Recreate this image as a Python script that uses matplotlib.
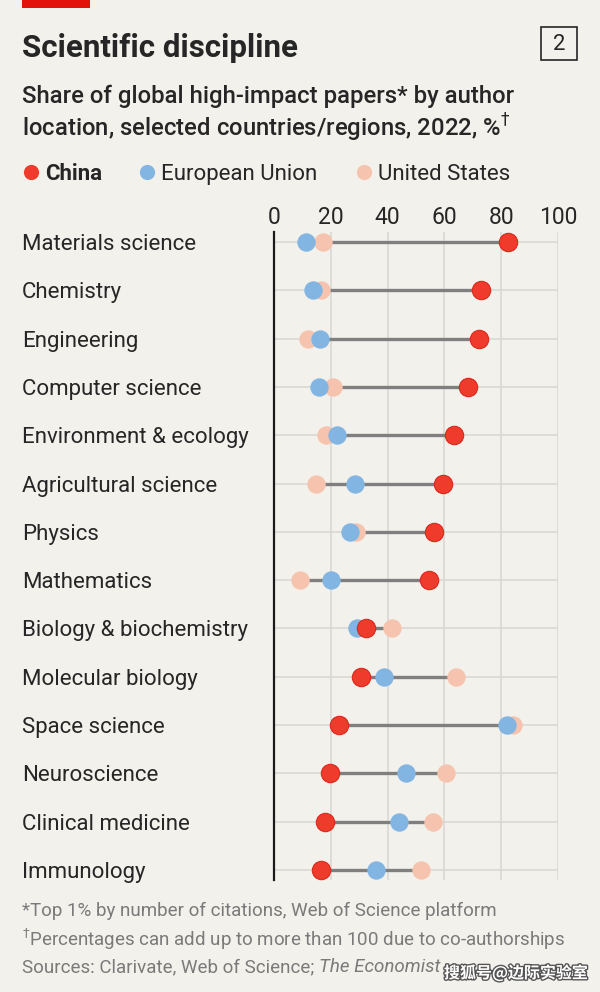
"""Dumbbell chart: share of global high-impact papers by discipline, China vs EU vs US."""
import numpy as np
import matplotlib
matplotlib.use("Agg")
import matplotlib.pyplot as plt
from matplotlib.patches import Rectangle
import matplotlib.patheffects as pe

BG = "#F3F1EC"
RED = "#EE3B2C"
BLUE = "#82B5E2"
PEACH = "#F6C4AE"
INK = "#262626"
GREY_TXT = "#7A7A7A"

disciplines = ["Materials science", "Chemistry", "Engineering", "Computer science",
               "Environment & ecology", "Agricultural science", "Physics", "Mathematics",
               "Biology & biochemistry", "Molecular biology", "Space science",
               "Neuroscience", "Clinical medicine", "Immunology"]
china = [82.5, 72.9, 72.3, 68.4, 63.3, 59.6, 56.3, 54.5, 32.5, 30.5, 22.9, 19.6, 17.8, 16.5]
eu = [11.2, 13.6, 16.1, 15.9, 22.2, 28.5, 26.7, 20.1, 29.2, 38.7, 82.0, 46.5, 43.9, 35.8]
us = [17.3, 16.4, 12.0, 20.6, 18.2, 14.7, 28.8, 9.1, 41.6, 64.2, 84.3, 60.4, 56.0, 51.6]
xticks = [0, 20, 40, 60, 80, 100]

plt.rcParams["font.family"] = ["Roboto", "DejaVu Sans"]

W, H = 600, 992
fig = plt.figure(figsize=(W / 100, H / 100), dpi=100)
fig.patch.set_facecolor(BG)


def fx(px):
    return px / W


def fy(py):
    return 1 - py / H


# plot area: x 0..100 -> px 274..558, rows from y 232 to 880 px
ax = fig.add_axes([fx(274), fy(880), fx(558) - fx(274), fy(232) - fy(880)])
ax.set_facecolor(BG)
n = len(disciplines)
ypos = np.arange(n)
ax.set_xlim(0, 100)
ax.set_ylim(n - 1 + 0.21, -0.21)

for x in xticks[1:]:
    ax.axvline(x, color="#D8D6D2", lw=1.1, zorder=0)
for y in ypos:
    ax.axhline(y, color="#D8D6D2", lw=1.1, zorder=0)

lo = np.minimum(np.minimum(china, eu), us)
hi = np.maximum(np.maximum(china, eu), us)
ax.hlines(ypos, lo, hi, color="#7F7F7F", lw=2.4, zorder=1)

S = 175
ax.scatter(us, ypos, s=S, color=PEACH, lw=0, zorder=2)
ax.scatter(eu, ypos, s=S, color=BLUE, lw=0, zorder=3)
ax.scatter(china, ypos, s=S, color=RED, edgecolor="#D92A1C", lw=0.8, zorder=4)

for side in ["top", "right", "bottom"]:
    ax.spines[side].set_visible(False)
ax.spines["left"].set_color("#1A1A1A")
ax.spines["left"].set_linewidth(1.6)

ax.xaxis.tick_top()
ax.set_xticks(xticks)
ax.set_xticklabels([str(t) for t in xticks])
ax.tick_params(axis="x", length=0, pad=2, labelsize=16.5, labelcolor=INK)
ax.set_yticks(ypos)
ax.set_yticklabels(disciplines)
ax.tick_params(axis="y", length=0, pad=252 * 0.72, labelsize=16, labelcolor=INK)
for lab in ax.get_yticklabels():
    lab.set_ha("left")

# header
fig.add_artist(Rectangle((fx(22), fy(8)), fx(90) - fx(22), 8 / H, color="#E3120B", lw=0))
fig.text(fx(22), fy(57), "Scientific discipline", fontsize=22.5, fontweight="bold",
         color=INK, va="baseline")
fig.add_artist(Rectangle((fx(541), fy(60)), fx(577) - fx(541), 33 / H, fill=False,
                         edgecolor=INK, lw=1.2))
fig.text(fx(559), fy(44), "2", fontsize=16, color=INK, ha="center", va="center")
fig.text(fx(22), fy(103), "Share of global high-impact papers* by author",
         fontsize=17.2, fontweight="medium", color=INK, va="baseline")
fig.text(fx(22), fy(137), "location, selected countries/regions, 2022, %$^{\\dagger}$",
         fontsize=17.2, fontweight="medium", color=INK, va="baseline")

# legend
for cx, col, label, bold in [(31, RED, "China", True), (147, BLUE, "European Union", False),
                             (364, PEACH, "United States", False)]:
    ax.scatter([fx(cx)], [fy(172)], s=120, color=col, transform=fig.transFigure,
               clip_on=False, lw=0)
    fig.text(fx(cx + 14), fy(172), label, fontsize=16, color=INK, va="center_baseline",
             fontweight="bold" if bold else "normal")

# footnotes
FN = 13.5
fig.text(fx(22), fy(911), "*Top 1% by number of citations, Web of Science platform",
         fontsize=FN, color=GREY_TXT, va="center")
fig.text(fx(22), fy(939), "$^{\\dagger}$Percentages can add up to more than 100 due to co-authorships",
         fontsize=FN, color=GREY_TXT, va="center")
t = fig.text(fx(22), fy(967), "Sources: Clarivate, Web of Science; ", fontsize=FN,
             color=GREY_TXT, va="center")
fig.canvas.draw()
bb = t.get_window_extent()
fig.text(bb.x1 / W, fy(967), "The Economist", fontsize=FN, color=GREY_TXT,
         va="center", style="italic")

# watermark
fig.text(fx(588), fy(973), "搜狐号@边际实验室", fontsize=11.5, color="white", ha="right",
         va="center", family=["Noto Sans CJK SC", "DejaVu Sans"], fontweight="bold",
         path_effects=[pe.withStroke(linewidth=2, foreground="#555555")])

fig.savefig("out.png", dpi=100, facecolor=BG)
